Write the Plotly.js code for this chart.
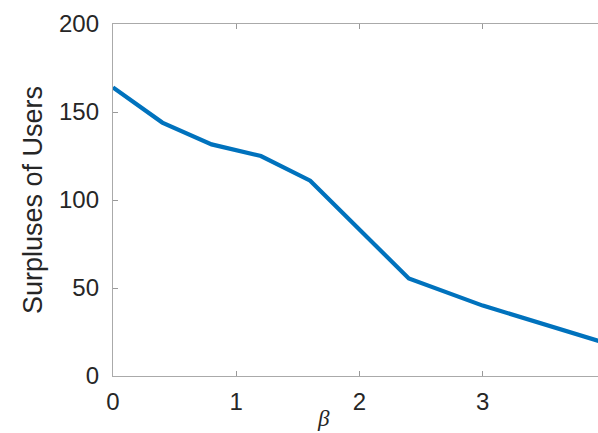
<!DOCTYPE html>
<html>
<head>
<meta charset="utf-8">
<script src="https://cdn.plot.ly/plotly-3.0.1.min.js"></script>
<style>
html,body{margin:0;padding:0;overflow:hidden;background:#fff;}
#chart{width:598px;height:433px;}
</style>
</head>
<body>
<div id="chart"></div>
<script>
var beta = [0, 0.4, 0.8, 1.2, 1.6, 2.4, 3.0, 4.0];
var surplus = [164, 144, 131.6, 125, 111, 55.4, 40, 18.6];
var xTicks = [0, 1, 2, 3];
var yTicks = [0, 50, 100, 150, 200];

var font = 'Liberation Sans, Arial, Helvetica, sans-serif';

var trace = {
  x: beta,
  y: surplus,
  mode: 'lines',
  line: {color: '#0072BD', width: 4.2},
  hoverinfo: 'skip'
};

var layout = {
  width: 598,
  height: 433,
  margin: {l: 112.5, r: 0, t: 23.5, b: 57},
  paper_bgcolor: '#fff',
  plot_bgcolor: '#fff',
  showlegend: false,
  font: {family: font, color: '#262626', size: 24},
  xaxis: {
    range: [0, 3.935],
    tickvals: xTicks,
    ticktext: xTicks.map(String),
    ticks: 'inside',
    ticklen: 5,
    tickwidth: 1,
    tickcolor: '#999',
    showline: true,
    linecolor: '#aaa',
    linewidth: 1.2,
    mirror: 'ticks',
    showgrid: false,
    zeroline: false,
    tickfont: {family: font, size: 24, color: '#262626'},
    ticklabelstandoff: 4
  },
  yaxis: {
    range: [0, 200],
    tickvals: yTicks,
    ticktext: yTicks.map(String),
    ticks: 'inside',
    ticklen: 5,
    tickwidth: 1,
    tickcolor: '#999',
    showline: true,
    linecolor: '#aaa',
    linewidth: 1.2,
    mirror: false,
    showgrid: false,
    zeroline: false,
    tickfont: {family: font, size: 24, color: '#262626'},
    ticklabelstandoff: 8,
    title: {text: 'Surpluses of Users', font: {family: font, size: 27, color: '#262626'}, standoff: 8}
  },
  annotations: [{
    text: '<i>β</i>',
    xref: 'x', yref: 'paper',
    x: 1.71, y: 0,
    yshift: -42,
    showarrow: false,
    font: {family: 'Liberation Serif, DejaVu Serif, serif', size: 23, color: '#262626'},
    xanchor: 'center', yanchor: 'middle'
  }]
};

Plotly.newPlot('chart', [trace], layout, {displayModeBar: false, staticPlot: true});
</script>
</body>
</html>
